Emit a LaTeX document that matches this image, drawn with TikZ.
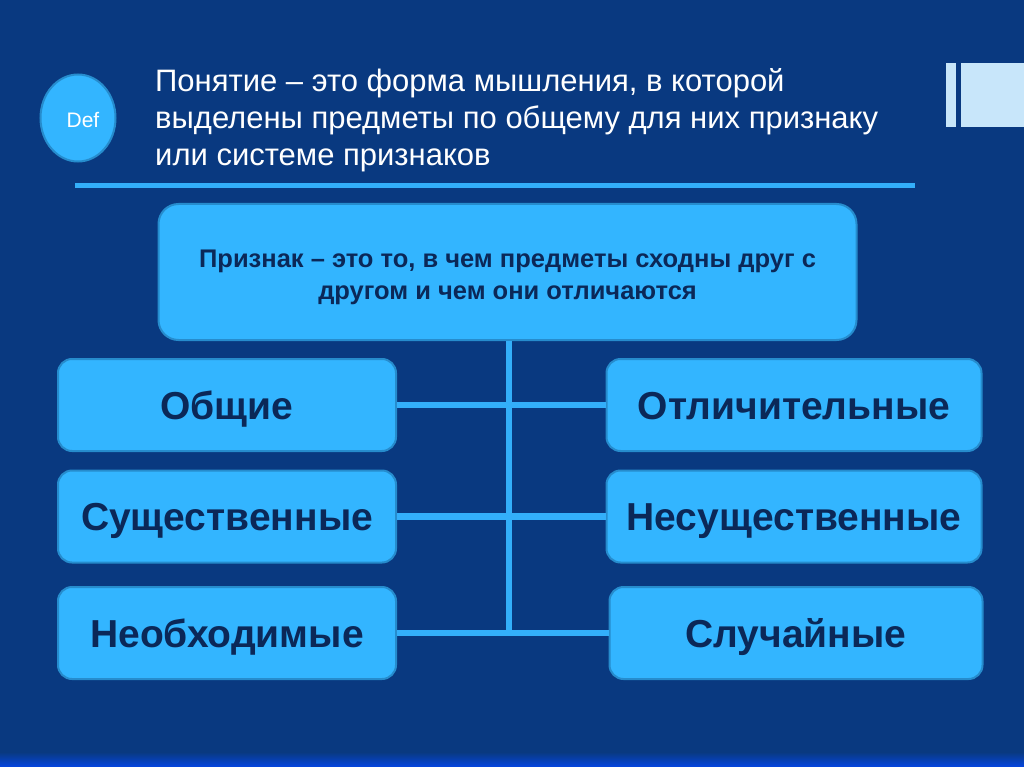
\documentclass[tikz,border=0pt]{standalone}
\usepackage{fontspec}
\usetikzlibrary{shapes.geometric}
\setmainfont{Liberation Sans}
\definecolor{bg}{RGB}{9,57,128}
\definecolor{boxfill}{RGB}{51,181,255}
\definecolor{boxline}{RGB}{38,140,205}
\definecolor{boxtext}{RGB}{11,40,88}
\definecolor{linec}{RGB}{51,175,250}
\definecolor{deco}{RGB}{200,230,250}
\definecolor{strip}{RGB}{5,70,225}
\tikzset{
  catbox/.style={draw=boxline, line width=2pt, fill=boxfill, rounded corners=14pt,
    minimum width=338pt, minimum height=92pt, inner sep=0pt,
    font=\fontsize{39}{44}\selectfont\bfseries, text=boxtext},
  conn/.style={draw=linec, line width=6.5pt},
  titleline/.style={anchor=base west, text=white, inner sep=0pt, font=\fontsize{31}{37}\selectfont},
}
\begin{document}
\begin{tikzpicture}[x=1pt,y=-1pt]
\fill[bg] (0,0) rectangle (1024,767);
\useasboundingbox (0,0) rectangle (1024,767);
\shade[top color=bg, bottom color=strip] (0,752) rectangle (1024,767);
% decoration top right
\fill[deco] (946,63) rectangle (956,127);
\fill[deco] (961,63) rectangle (1024,127);
% Def circle
\node[draw=boxline, line width=2pt, fill=boxfill, ellipse, minimum width=75pt, minimum height=87pt, inner sep=0pt] (def) at (78,118) {};
\node[text=white, font=\fontsize{21}{24}\selectfont, inner sep=0pt] (deftext) at (83,120) {Def};
% title
\node[titleline] (t1) at (155,92) {Понятие – это форма мышления, в которой};
\node[titleline] (t2) at (155,129) {выделены предметы по общему для них признаку};
\node[titleline] (t3) at (155,166) {или системе признаков};
\coordinate (hl1) at (75,186);
\coordinate (hl2) at (915,186);
\draw[draw=linec, line width=5pt] (hl1) -- (hl2);
% top box
\node[draw=boxline, line width=2pt, fill=boxfill, rounded corners=20pt,
  minimum width=698pt, minimum height=136pt, inner sep=0pt] (top) at (507.5,272) {};
\node[text=boxtext, align=center, inner sep=0pt,
  font=\fontsize{25.5}{32}\selectfont\bfseries] (toptext) at (507.5,277)
  {Признак – это то, в чем предметы сходны друг с\\другом и чем они отличаются};
% category boxes
\tikzset{catbox/.append style={text depth=0pt, text height=28pt}}
\node[catbox] (l1) at (227,405) {Общие};
\node[catbox] (l2) at (227,516.5) {Существенные};
\node[catbox] (l3) at (227,633) {Необходимые};
\node[catbox, minimum width=375pt] (r1) at (794,405) {Отличительные};
\node[catbox, minimum width=375pt] (r2) at (794,516.5) {Несущественные};
\node[catbox, minimum width=373pt] (r3) at (796,633) {Случайные};
% connectors
\coordinate (tr) at (509,633);
\draw[conn] (top.south -| tr) -- (tr);
\draw[conn] (l1.east) -- (r1.west);
\draw[conn] (l2.east) -- (r2.west);
\draw[conn] (l3.east) -- (r3.west);
\end{tikzpicture}
\end{document}
